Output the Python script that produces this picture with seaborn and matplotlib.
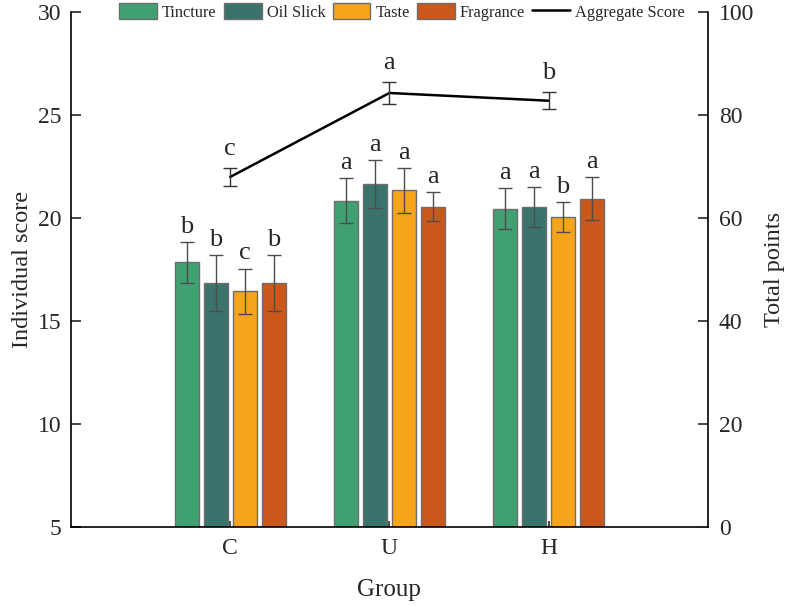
import numpy as np
import pandas as pd
import seaborn as sns
import matplotlib
matplotlib.use('Agg')
from matplotlib import pyplot as plt
from matplotlib.patches import Patch
from matplotlib.lines import Line2D

groups = ['C', 'U', 'H']
attributes = ['Tincture', 'Oil Slick', 'Taste', 'Fragrance']

tincture = [17.85, 20.85, 20.45]
oil_slick = [16.85, 21.65, 20.55]
taste = [16.45, 21.35, 20.05]
fragrance = [16.85, 20.55, 20.95]

tincture_sd = [1.0, 1.1, 1.0]
oil_slick_sd = [1.35, 1.15, 0.97]
taste_sd = [1.1, 1.1, 0.73]
fragrance_sd = [1.35, 0.7, 1.05]

tincture_sig = ['b', 'a', 'a']
oil_slick_sig = ['b', 'a', 'a']
taste_sig = ['c', 'a', 'b']
fragrance_sig = ['b', 'a', 'a']

aggregate = [68.0, 84.3, 82.8]
aggregate_sd = [1.7, 2.15, 1.6]
aggregate_sig = ['c', 'a', 'b']

colors = ['#40a072', '#3a726c', '#f5a41c', '#c9581a']

means = [tincture, oil_slick, taste, fragrance]
sds = [tincture_sd, oil_slick_sd, taste_sd, fragrance_sd]
sigs = [tincture_sig, oil_slick_sig, taste_sig, fragrance_sig]

df = pd.DataFrame({
    'Group': groups * len(attributes),
    'Attribute': np.repeat(attributes, len(groups)),
    'Score': np.concatenate(means),
})

sns.set_theme(style='ticks')
plt.rcParams['font.family'] = ['Liberation Serif', 'DejaVu Serif']

fig, ax = plt.subplots(figsize=(7.89, 6.06), dpi=100)
fig.subplots_adjust(left=0.09, right=0.897, top=0.98, bottom=0.13)

sns.barplot(data=df, x='Group', y='Score', hue='Attribute', order=groups,
            hue_order=attributes, palette=colors, saturation=1, errorbar=None,
            width=0.73, gap=0.17, edgecolor='#6e6e6e', linewidth=1,
            ax=ax, legend=False)

# error bars + letters for the bars, positioned from the drawn patches
bar_sets = list(ax.containers)
for i, cont in enumerate(bar_sets):
    for j, bar in enumerate(cont):
        xc = bar.get_x() + bar.get_width() / 2
        top = bar.get_height() + bar.get_y()
        ax.errorbar(xc, top, yerr=sds[i][j], color='#4d4d4d', capsize=5,
                    elinewidth=1, capthick=1, fmt='none', zorder=3)
        ax.annotate(sigs[i][j], (xc, top + sds[i][j]), xytext=(0, 3),
                    textcoords='offset points', ha='center', va='bottom',
                    fontsize=19)

ax.set_ylim(5, 30)
ax.set_yticks([5, 10, 15, 20, 25, 30])
ax.set_xlim(-1, 3)
ax.set_xlabel('Group', fontsize=18, labelpad=14)
ax.set_ylabel('Individual score', fontsize=17.5, labelpad=3)
ax.tick_params(axis='y', direction='in', length=7, width=1.2, labelsize=17, pad=7)
ax.tick_params(axis='x', direction='in', length=4, width=1.2, labelsize=17, pad=8)
for s in ['left', 'bottom']:
    ax.spines[s].set_linewidth(1.2)
    ax.spines[s].set_color('black')
ax.spines['top'].set_visible(False)
ax.spines['right'].set_visible(False)

ax2 = ax.twinx()
sns.pointplot(x=groups, y=aggregate, order=groups, color='black', markers='',
              linestyles='-', errorbar=None, linewidth=1.8, ax=ax2)
line = ax2.lines[0]
lx = line.get_xdata()
ax2.errorbar(lx, aggregate, yerr=aggregate_sd, color='#333333', capsize=5,
             elinewidth=1, capthick=1, fmt='none')
for xi, yi, e, s in zip(lx, aggregate, aggregate_sd, aggregate_sig):
    ax2.annotate(s, (xi, yi + e), xytext=(0, 6), textcoords='offset points',
                 ha='center', va='bottom', fontsize=19)
ax2.set_ylim(0, 100)
ax2.set_yticks([0, 20, 40, 60, 80, 100])
ax2.set_xlim(-1, 3)
ax2.set_ylabel('Total points', fontsize=17.5, labelpad=7)
ax2.tick_params(axis='y', direction='in', length=7, width=1.2, labelsize=17, pad=8)
ax2.spines['right'].set_linewidth(1.2)
ax2.spines['right'].set_color('black')
ax2.spines['top'].set_visible(False)
ax2.spines['left'].set_visible(False)
ax2.spines['bottom'].set_visible(False)

# legend
handles = [Patch(facecolor=c, edgecolor='#6e6e6e', label=a) for c, a in zip(colors, attributes)]
handles.append(Line2D([0], [0], color='black', lw=1.8, label='Aggregate Score'))
ax2.legend(handles=handles, loc='center', bbox_to_anchor=(0.52, 1.0), ncol=5,
           frameon=False, fontsize=11.8, handlelength=2.3, handleheight=1.1,
           handletextpad=0.3, columnspacing=0.45, borderaxespad=0)

fig.savefig('out.png', dpi=100)
